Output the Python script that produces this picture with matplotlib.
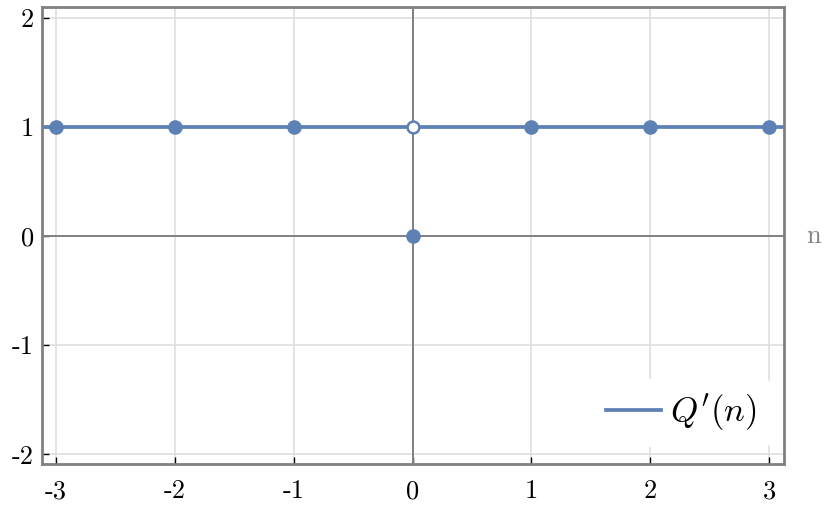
import matplotlib.pyplot as plt
import numpy as np

plt.rcParams['font.family'] = 'cmr10'
plt.rcParams['mathtext.fontset'] = 'cm'
plt.rcParams['axes.unicode_minus'] = False

# data
n_vals = np.array([-3, -2, -1, 1, 2, 3])
q_vals = np.array([1, 1, 1, 1, 1, 1])
hole_n, hole_q = 0, 1
point_n, point_q = 0, 0
line_level = 1
xticks = [-3, -2, -1, 0, 1, 2, 3]
yticks = [-2, -1, 0, 1, 2]

blue = '#5e81b5'
gray = '#808080'

fig = plt.figure(figsize=(8.3, 5.13), dpi=100)
ax = fig.add_axes([0.0506, 0.0955, 0.894, 0.891])

ax.set_xlim(-3.118, 3.126)
ax.set_ylim(-2.09, 2.1)

ax.grid(True, color='#dddddd', lw=1.1)
ax.axhline(0, color=gray, lw=1.4, zorder=1.8)
ax.axvline(0, color=gray, lw=1.4, zorder=1.8)

ax.axhline(line_level, color=blue, lw=2.7, zorder=2, label="$Q'(n)$")
ax.plot(n_vals, q_vals, 'o', color=blue, ms=9.5, zorder=3)
ax.plot(point_n, point_q, 'o', color=blue, ms=9.5, zorder=3)
ax.plot(hole_n, hole_q, 'o', mfc='white', mec=blue, mew=1.8, ms=8.5, zorder=4)

ax.set_xticks(xticks)
ax.set_xticklabels([str(t) for t in xticks])
ax.set_yticks(yticks)
ax.set_yticklabels([str(t) for t in yticks])
ax.tick_params(direction='in', length=5, width=1, color='black', labelsize=19)
ax.tick_params(axis='x', pad=11)
ax.tick_params(axis='y', pad=6)

for s in ax.spines.values():
    s.set_color(gray)
    s.set_linewidth(2)

ax.text(1.03, 0, 'n', transform=ax.get_yaxis_transform(), color=gray,
        fontsize=19, va='center', ha='left', clip_on=False)

leg = ax.legend(loc='center right', frameon=True, fontsize=25, handlelength=1.6,
                handletextpad=0.25, bbox_to_anchor=(0.982, 0.112), borderaxespad=0)
leg.get_frame().set_edgecolor('none')
leg.get_frame().set_facecolor('white')
leg.get_frame().set_alpha(1)

fig.savefig('out.png', dpi=100)
